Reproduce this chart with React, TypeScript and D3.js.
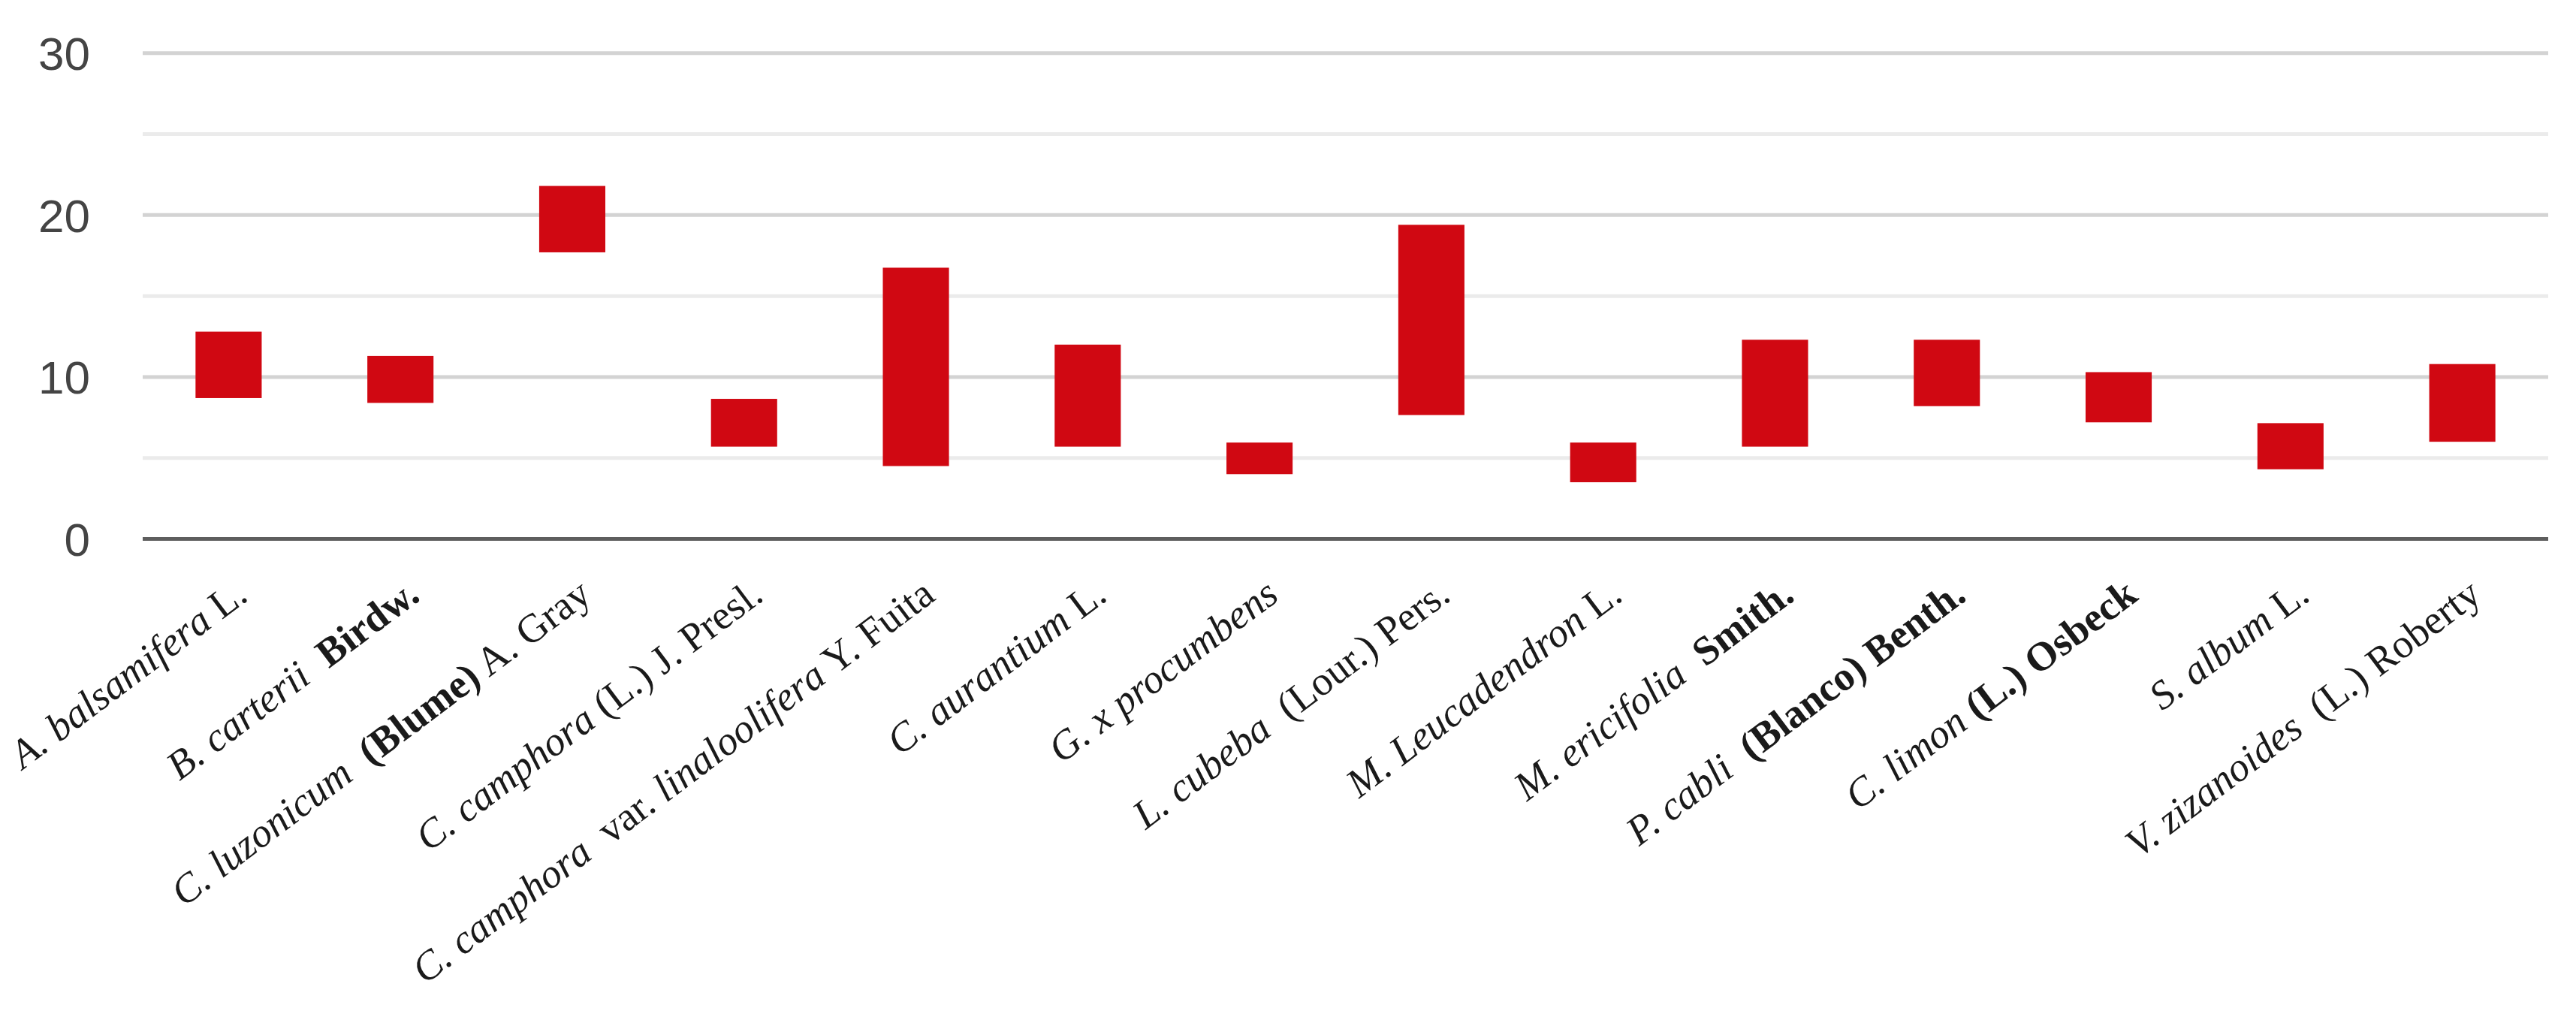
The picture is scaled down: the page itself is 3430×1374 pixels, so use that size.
import React from "react";
import * as d3 from "d3";

const categories: string[] = [
  "A. balsamifera L.",
  "B. carterii Birdw.",
  "C. luzonicum (Blume) A. Gray",
  "C. camphora (L.) J. Presl.",
  "C. camphora var. linaloolifera Y. Fuita",
  "C. aurantium L.",
  "G. x procumbens",
  "L. cubeba (Lour.) Pers.",
  "M. Leucadendron L.",
  "M. ericifolia Smith.",
  "P. cabli (Blanco) Benth.",
  "C. limon (L.) Osbeck",
  "S. album L.",
  "V. zizanoides (L.) Roberty",
];

// label pieces: [text, style] with i = italic, r = regular, b = bold
const labelParts: [string, string][][] = [
  [["A. balsamifera", "i"], [" L.", "r"]],
  [["B. carterii", "i"], ["  Birdw.", "b"]],
  [["C. luzonicum", "i"], ["  (Blume)", "b"], [" A. Gray", "r"]],
  [["C. camphora", "i"], [" (L.) J. Presl.", "r"]],
  [["C. camphora", "i"], ["  var. ", "r"], ["linaloolifera", "i"], [" Y. Fuita", "r"]],
  [["C. aurantium", "i"], [" L.", "r"]],
  [["G. x procumbens", "i"]],
  [["L. cubeba", "i"], ["  (Lour.) Pers.", "r"]],
  [["M. Leucadendron", "i"], [" L.", "r"]],
  [["M. ericifolia", "i"], ["  Smith.", "b"]],
  [["P. cabli", "i"], ["  (Blanco) Benth.", "b"]],
  [["C. limon", "i"], [" (L.) Osbeck", "b"]],
  [["S. album", "i"], [" L.", "r"]],
  [["V. zizanoides", "i"], ["  (L.) Roberty", "r"]],
];

const lowValues: number[] = [8.7, 8.4, 17.7, 5.7, 4.5, 5.7, 4.0, 7.65, 3.5, 5.7, 8.2, 7.2, 4.3, 6.0];
const highValues: number[] = [12.8, 11.3, 21.8, 8.65, 16.75, 12.0, 5.95, 19.4, 5.95, 12.3, 12.3, 10.3, 7.15, 10.8];

const gridTicks: number[] = [0, 5, 10, 15, 20, 25, 30];
const labelTicks: number[] = [0, 10, 20, 30];

const W = 3430;
const H = 1374;
const left = 190;
const right = 3393;
const top = 70.8;
const bottom = 717.5;

export default function App() {
  const x = d3
    .scaleBand<string>()
    .domain(categories)
    .range([left, right])
    .paddingInner(0.615)
    .paddingOuter(0.3075);
  const y = d3.scaleLinear().domain([0, 30]).range([bottom, top]);

  const styleOf = (s: string) => ({
    fontStyle: s === "i" ? "italic" : "normal",
    fontWeight: s === "b" ? 700 : 400,
  });

  return (
    <div style={{ position: "absolute", left: 0, top: 0 }}>
      <svg width={W} height={H} style={{ display: "block", background: "#fff" }}>
        {gridTicks
          .filter((t) => t !== 0)
          .map((t) => (
            <line
              key={"g" + t}
              x1={left}
              x2={right}
              y1={y(t)}
              y2={y(t)}
              stroke={t % 10 === 0 ? "#d3d3d3" : "#ebebeb"}
              strokeWidth={5}
            />
          ))}
        {categories.map((c, i) => (
          <rect
            key={"b" + i}
            x={x(c)}
            width={x.bandwidth()}
            y={y(highValues[i])}
            height={y(lowValues[i]) - y(highValues[i])}
            fill="#d00812"
          />
        ))}
        <line x1={left} x2={right} y1={y(0)} y2={y(0)} stroke="#5e5e5e" strokeWidth={5} />
        {labelTicks.map((t) => (
          <text
            key={"t" + t}
            x={120}
            y={y(t)}
            dy="0.36em"
            textAnchor="end"
            fontFamily="'Liberation Sans', Arial, sans-serif"
            fontSize={62}
            fill="#444"
          >
            {t}
          </text>
        ))}
        {categories.map((c, i) => {
          const cx = (x(c) as number) + x.bandwidth() / 2 + 28;
          const cy = y(0) + 80;
          return (
            <text
              key={"l" + i}
              transform={`translate(${cx},${cy}) rotate(-37)`}
              textAnchor="end"
              fontFamily="'Palatino Linotype', 'Book Antiqua', Palatino, 'Liberation Serif', serif"
              fontSize={54}
              fill="#1a1a1a"
              style={{ whiteSpace: "pre" }}
            >
              {labelParts[i].map(([txt, s], j) => (
                <tspan key={j} style={styleOf(s)}>
                  {txt}
                </tspan>
              ))}
            </text>
          );
        })}
      </svg>
    </div>
  );
}
